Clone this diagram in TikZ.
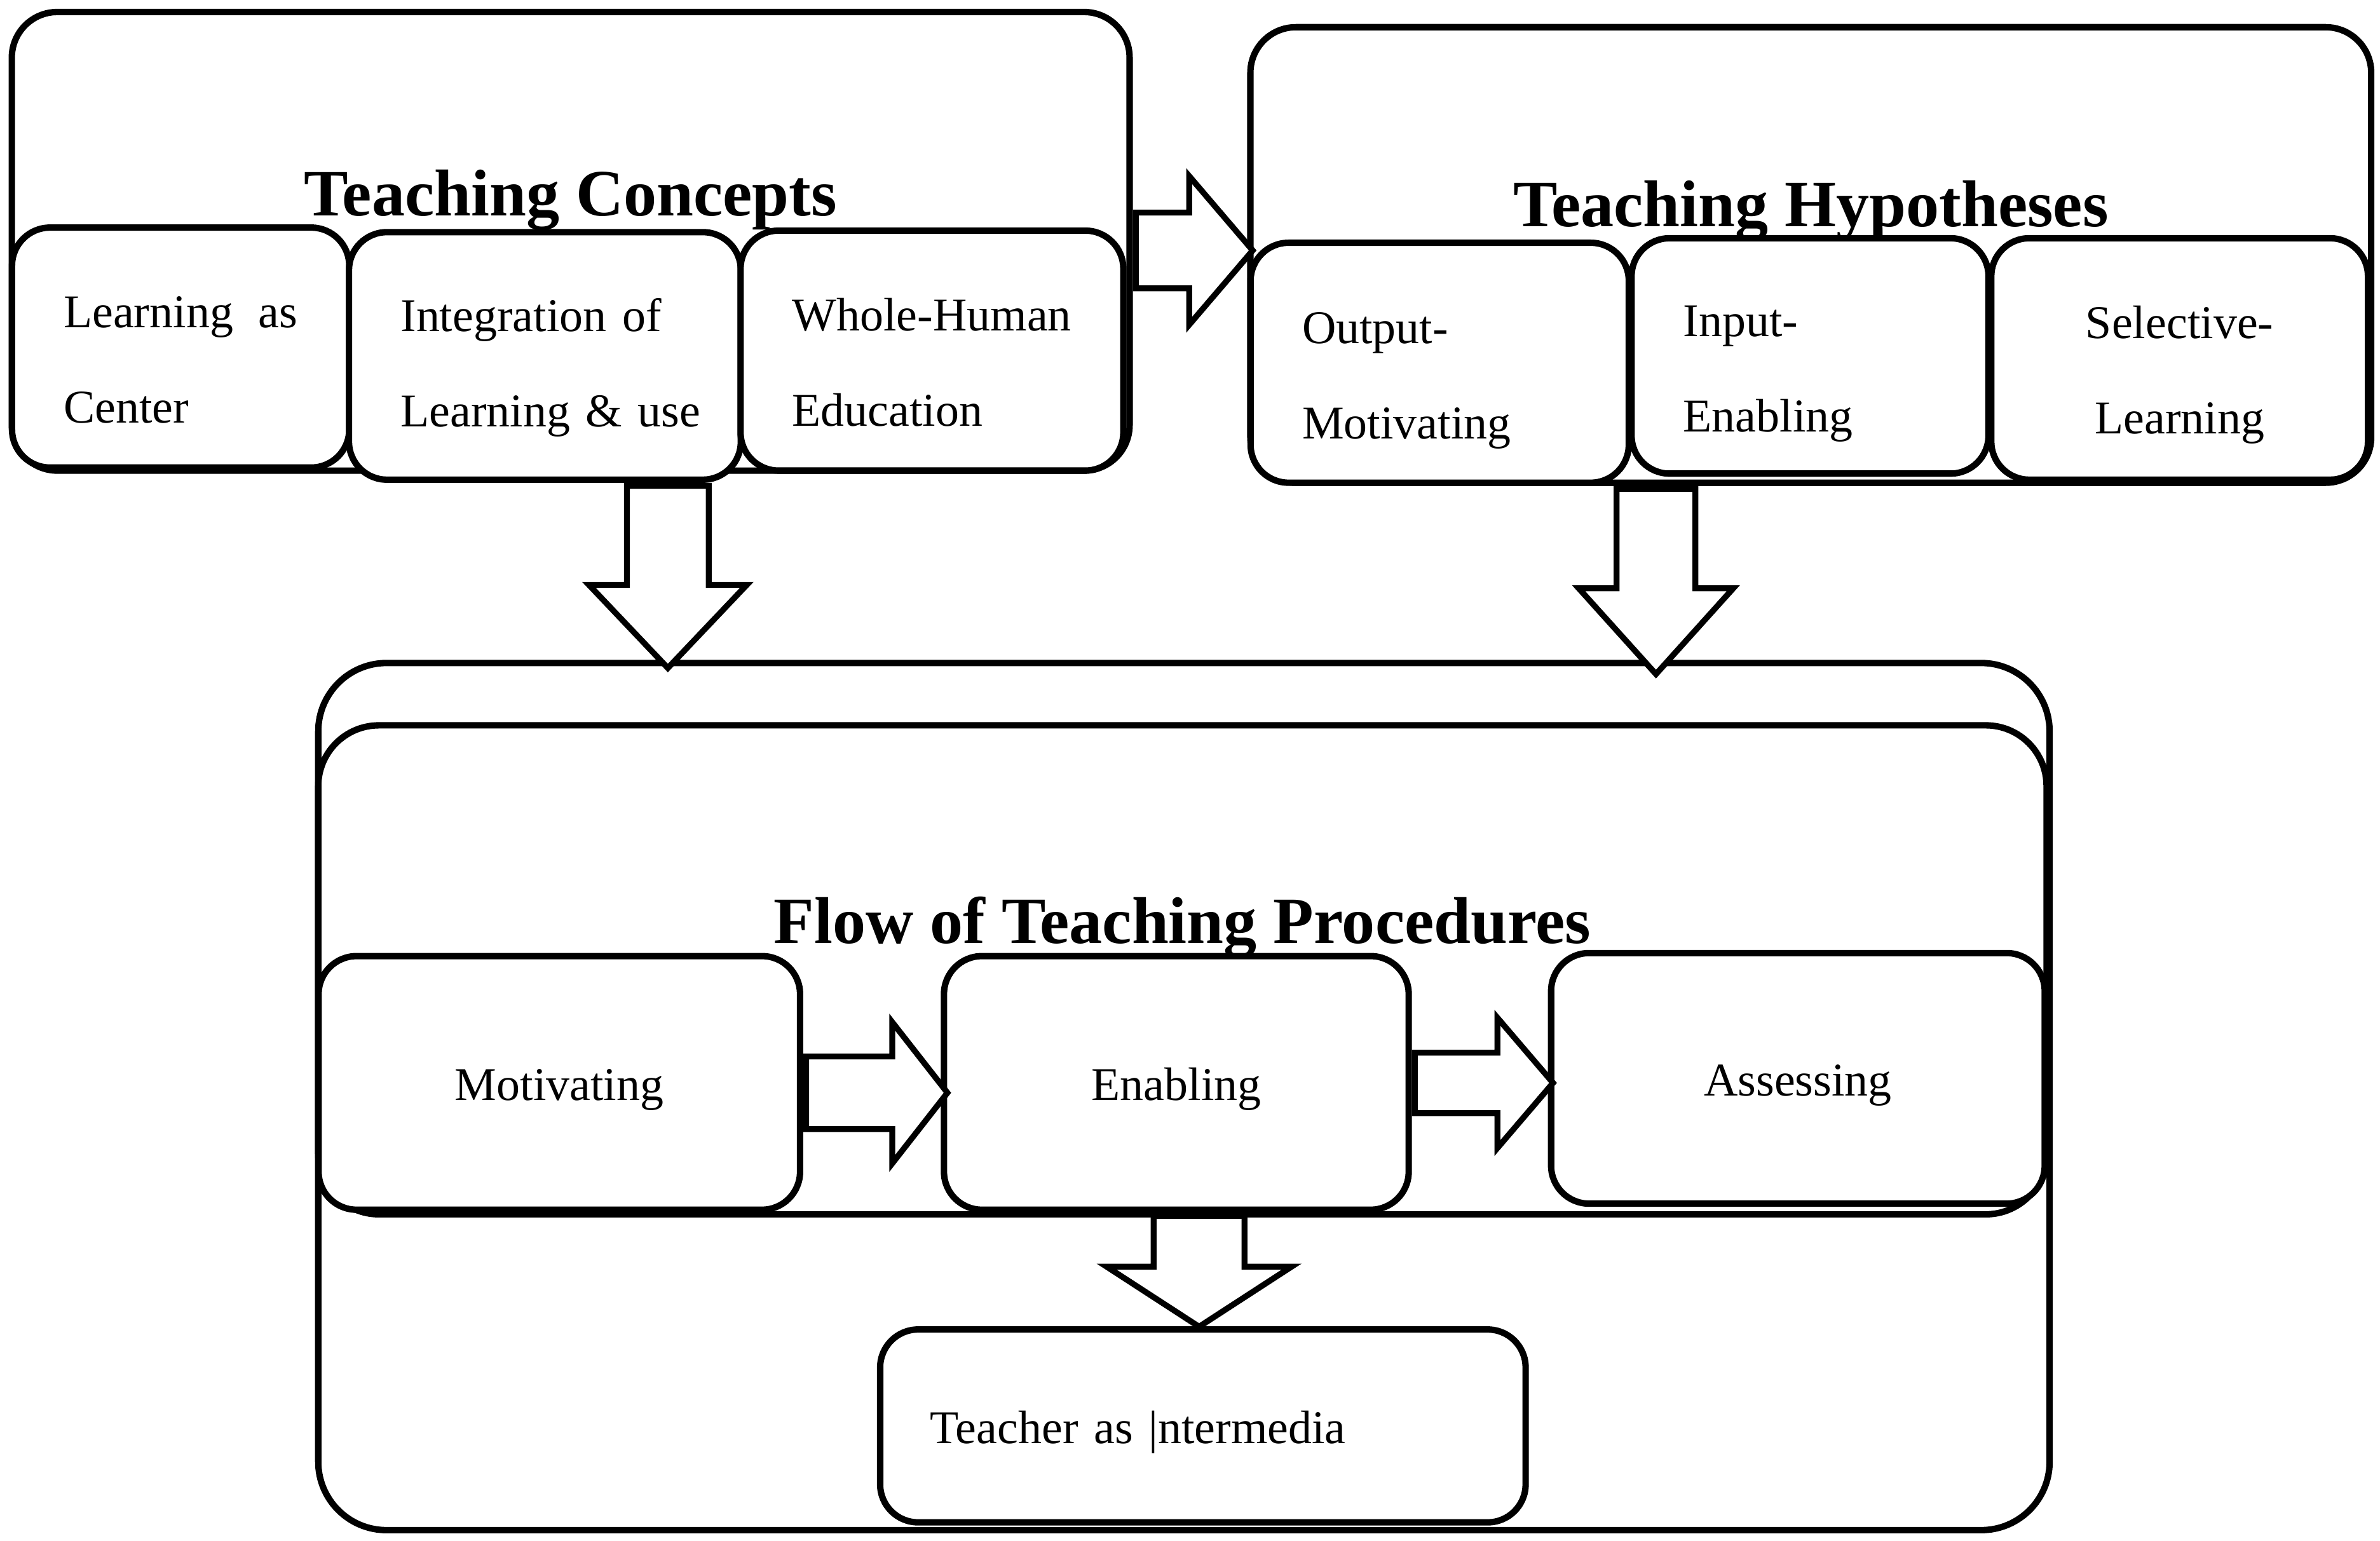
\documentclass[tikz,border=0pt]{standalone}
\usepackage{fontspec}
\setmainfont{Liberation Serif}
\usetikzlibrary{shapes.arrows}

\begin{document}
\begin{tikzpicture}[x=0.01cm, y=-0.01cm,
    outerbox/.style={draw, rounded corners=0.3cm, line width=1.2pt},
    innerbox/.style={draw, fill=white, rounded corners=0.25cm, line width=1.2pt, inner xsep=0.34cm, align=left, text height=10.5pt, font=\fontsize{8.8}{17.9}\selectfont},
    procbox/.style={draw, fill=white, rounded corners=0.25cm, line width=1.2pt, text height=8.4pt, font=\fontsize{8.8}{10.5}\selectfont},
    boxtitle/.style={font=\bfseries\fontsize{12.4}{15}\selectfont},
    blockarrow/.style n args={4}{single arrow, draw, fill=white, line width=1.1pt, anchor=tail, inner xsep=0pt, single arrow head indent=0pt, minimum height=#1, inner ysep=#2, single arrow head extend=#3, single arrow tip angle=#4}]
    \useasboundingbox (0,0) rectangle (1568,1015); %marco de imagen
    \node[outerbox, minimum width=7.36cm, minimum height=3.02cm] (tc) at (376,159) {}; %conceptos
    \node[outerbox, minimum width=7.38cm, minimum height=3.00cm] (th) at (1193,168) {}; %hipotesis
    \node[innerbox, text width=1.54cm, minimum height=1.58cm, align=justify] (lac) at (119,229) {Learning as Center};
    \node[innerbox, text width=1.90cm, minimum height=1.63cm] (iol) at (359,234.5) {Integration~of\\Learning~\&~use};
    \node[innerbox, text width=1.84cm, minimum height=1.58cm] (whe) at (614,231) {Whole-Human\\Education};
    \node[innerbox, text width=1.81cm, minimum height=1.58cm, text height=12.5pt] (om) at (948.5,239) {Output-\\Motivating};
    \node[innerbox, text width=1.67cm, minimum height=1.55cm, text height=12.5pt] (ie) at (1192.5,234.5) {Input-\\Enabling};
    \node[innerbox, text width=1.80cm, minimum height=1.59cm, text height=12pt, align=center] (sl) at (1436,236.5) {Selective-\\Learning};
    \node[outerbox, rounded corners=0.45cm, minimum width=11.40cm, minimum height=5.71cm] (fpo) at (780,722.5) {}; %procedimientos
    \node[outerbox, rounded corners=0.4cm, minimum width=11.38cm, minimum height=3.22cm] (fpi) at (779,639) {}; %flujo
    \node[procbox, minimum width=3.17cm, minimum height=1.67cm] (mot) at (368.5,713.5) {Motivating};
    \node[procbox, minimum width=3.06cm, minimum height=1.67cm] (ena) at (775,713.5) {Enabling};
    \node[procbox, minimum width=3.25cm, minimum height=1.65cm] (ass) at (1184.5,710.5) {Assessing};
    \node[procbox, text width=3.59cm, inner xsep=0.33cm, minimum height=1.27cm, align=left] (tai) at (792.5,939.5) {Teacher as |ntermedia};
    \path (tc.east) -- (th.west) node[pos=0, yshift=-0.06cm, blockarrow={0.77cm}{0.23cm}{0.24cm}{99}] (a1) {}; %flecha conceptos-hipotesis
    \path (iol.south -| 440,0) -- (fpo.north -| 440,0) node[pos=0, rotate=270, blockarrow={1.20cm}{0.25cm}{0.25cm}{87}] (a2) {}; %flecha a procedimientos
    \path (om.south -| 1091,0) -- (fpo.north -| 1091,0) node[pos=0, rotate=270, blockarrow={1.22cm}{0.24cm}{0.25cm}{84}] (a3) {}; %flecha a procedimientos
    \path (mot.east) -- (ena.west) node[pos=0, yshift=-0.065cm, blockarrow={0.93cm}{0.22cm}{0.225cm}{104}] (a4) {};
    \path (ena.east) -- (ass.west) node[pos=0, blockarrow={0.91cm}{0.18cm}{0.23cm}{99}] (a5) {};
    \path (ena.south -| 790,0) -- (tai.north -| 790,0) node[pos=0, rotate=270, blockarrow={0.73cm}{0.28cm}{0.31cm}{114}] (a6) {};
    \node[boxtitle] (tct) at (376,132) {Teaching Concepts};
    \node[boxtitle] (tht) at (1193,139) {Teaching Hypotheses};
    \node[boxtitle] (fpt) at (779,611) {Flow of Teaching Procedures};
\end{tikzpicture}
\end{document}
